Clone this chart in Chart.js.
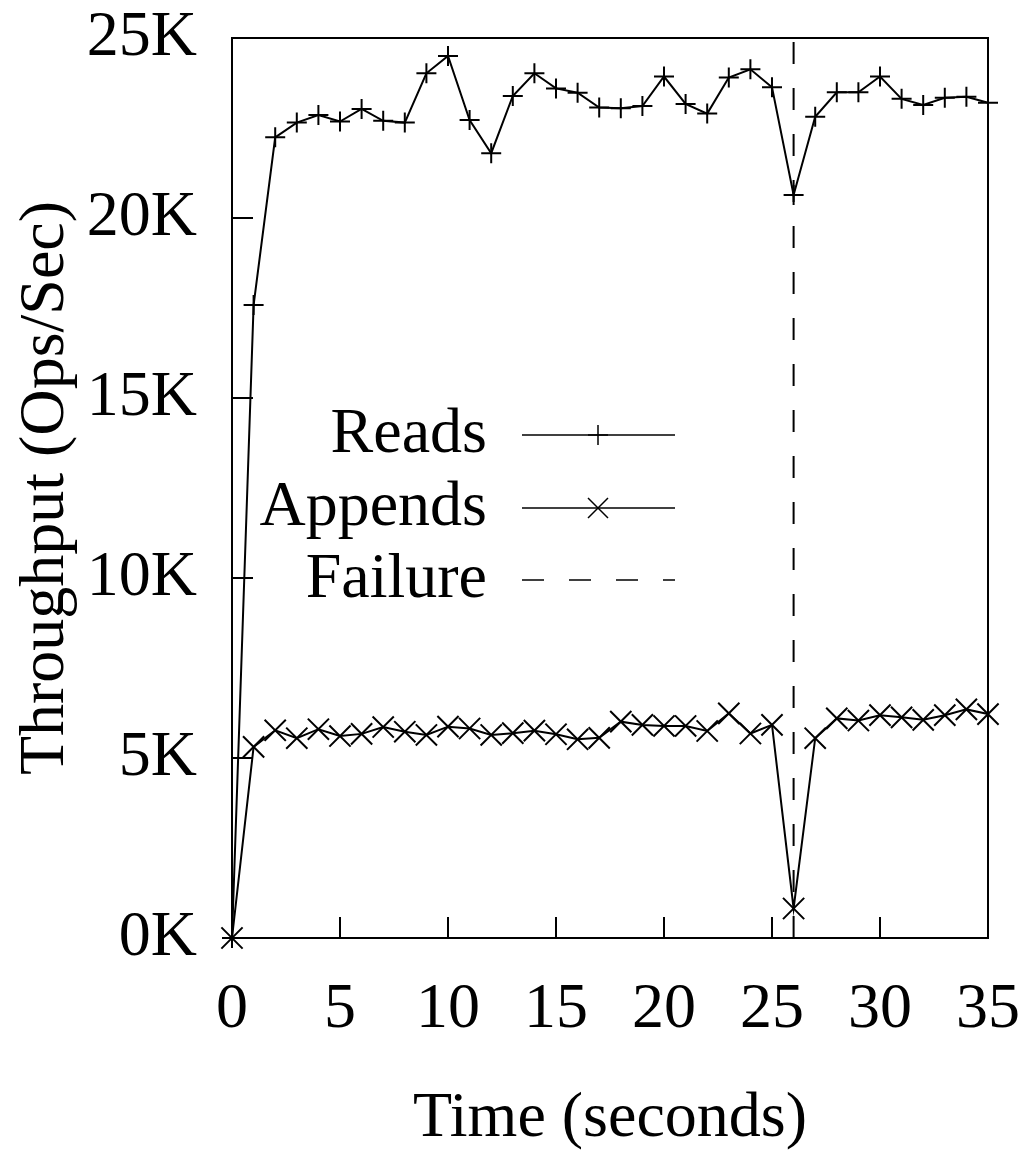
<!DOCTYPE html>
<html>
<head>
<meta charset="utf-8">
<script src="https://cdn.jsdelivr.net/npm/chart.js@4"></script>
<style>
  html, body { margin: 0; padding: 0; background: #fff; }
  #wrap { width: 1036px; height: 1151px; }
</style>
</head>
<body>
<div id="wrap"><canvas id="throughputChart" width="1036" height="1151"></canvas></div>
<script>
// time in seconds, throughput in thousands of ops/sec
const seconds = [0, 1, 2, 3, 4, 5, 6, 7, 8, 9, 10, 11, 12, 13, 14, 15, 16, 17,
    18, 19, 20, 21, 22, 23, 24, 25, 26, 27, 28, 29, 30, 31, 32, 33, 34, 35];
const reads = [0, 17.58, 22.24, 22.65, 22.86, 22.68, 23.03, 22.70, 22.65, 24.02, 24.5,
    22.72, 21.8, 23.39, 24.02, 23.6, 23.48, 23.07, 23.05, 23.11, 23.93, 23.17, 22.9,
    23.9, 24.13, 23.63, 20.64, 22.81, 23.49, 23.49, 23.93, 23.31, 23.14, 23.34, 23.37, 23.2];
const appends = [0, 5.31, 5.77, 5.55, 5.8, 5.61, 5.67, 5.86, 5.73, 5.64, 5.87,
    5.82, 5.64, 5.69, 5.76, 5.66, 5.52, 5.56, 6.01, 5.92, 5.89, 5.89, 5.75,
    6.24, 5.68, 5.92, 0.82, 5.55, 6.1, 6.04, 6.19, 6.13, 6.06, 6.19, 6.35, 6.22];
const failureTime = 26;
const xTicks = [0, 5, 10, 15, 20, 25, 30, 35];
const yTicks = [0, 5, 10, 15, 20, 25];

const FONT = "'Liberation Serif', 'Times New Roman', serif";

function toPoints(xs, ys) {
    return xs.map((x, i) => ({ x: x, y: ys[i] }));
}

// box round the plot plus inward tick marks
const framePlugin = {
    id: "frame",
    afterDatasetsDraw(chart) {
        const ctx = chart.ctx;
        const a = chart.chartArea;
        const xs = chart.scales.x;
        const ys = chart.scales.y;
        ctx.save();
        ctx.strokeStyle = "#000";
        ctx.lineWidth = 2;
        ctx.strokeRect(a.left, a.top, a.right - a.left, a.bottom - a.top);
        ctx.beginPath();
        xTicks.forEach(t => {
            const px = xs.getPixelForValue(t);
            ctx.moveTo(px, a.bottom);
            ctx.lineTo(px, a.bottom - 21);
        });
        yTicks.forEach(t => {
            const py = ys.getPixelForValue(t);
            ctx.moveTo(a.left, py);
            ctx.lineTo(a.left + 21, py);
        });
        ctx.stroke();
        ctx.restore();
    }
};

// gnuplot style key: text right aligned, sample on the right
const keyPlugin = {
    id: "key",
    afterDraw(chart) {
        const ctx = chart.ctx;
        const entries = [
            { label: "Reads", y: 435, marker: "plus" },
            { label: "Appends", y: 508, marker: "cross" },
            { label: "Failure", y: 580, dash: [22, 25] }
        ];
        ctx.save();
        ctx.fillStyle = "#000";
        ctx.strokeStyle = "#000";
        ctx.font = "64px " + FONT;
        ctx.textAlign = "right";
        ctx.textBaseline = "middle";
        entries.forEach(e => {
            ctx.fillText(e.label, 487, e.y);
            ctx.lineWidth = 1.5;
            ctx.setLineDash(e.dash || []);
            ctx.beginPath();
            ctx.moveTo(522, e.y);
            ctx.lineTo(675, e.y);
            ctx.stroke();
            ctx.setLineDash([]);
            ctx.beginPath();
            if (e.marker === "plus") {
                ctx.moveTo(598, e.y - 10); ctx.lineTo(598, e.y + 10);
                ctx.moveTo(588, e.y); ctx.lineTo(608, e.y);
            } else if (e.marker === "cross") {
                ctx.moveTo(588, e.y - 10); ctx.lineTo(608, e.y + 10);
                ctx.moveTo(588, e.y + 10); ctx.lineTo(608, e.y - 10);
            }
            ctx.stroke();
        });
        ctx.restore();
    }
};

const ctx = document.getElementById("throughputChart").getContext("2d");
new Chart(ctx, {
    type: "line",
    data: {
        datasets: [
            {
                label: "Reads",
                data: toPoints(seconds, reads),
                borderColor: "#000",
                borderWidth: 2,
                pointStyle: "cross",
                pointRadius: 10,
                pointBorderWidth: 2,
                pointBorderColor: "#000",
                pointBackgroundColor: "#000",
                fill: false,
                clip: false,
                tension: 0
            },
            {
                label: "Appends",
                data: toPoints(seconds, appends),
                borderColor: "#000",
                borderWidth: 2,
                pointStyle: "crossRot",
                pointRadius: 15,
                pointBorderWidth: 2,
                pointBorderColor: "#000",
                pointBackgroundColor: "#000",
                fill: false,
                clip: false,
                tension: 0
            },
            {
                label: "Failure",
                data: [{ x: failureTime, y: 0 }, { x: failureTime, y: 25 }],
                borderColor: "#000",
                borderWidth: 2,
                borderDash: [22, 24],
                pointRadius: 0,
                fill: false
            }
        ]
    },
    options: {
        responsive: false,
        animation: false,
        devicePixelRatio: 1,
        layout: {
            padding: { top: 38, right: 48, left: 0, bottom: 0 }
        },
        plugins: {
            legend: { display: false },
            tooltip: { enabled: false }
        },
        scales: {
            x: {
                type: "linear",
                min: 0,
                max: 35,
                grid: { display: false },
                border: { display: false },
                afterBuildTicks: s => { s.ticks = xTicks.map(v => ({ value: v })); },
                afterFit: s => { s.height = 213; s.paddingLeft = 0; s.paddingRight = 0; },
                ticks: {
                    color: "#000",
                    font: { family: FONT, size: 64 },
                    padding: 26,
                    autoSkip: false,
                    maxRotation: 0
                },
                title: {
                    display: true,
                    text: "Time (seconds)",
                    color: "#000",
                    font: { family: FONT, size: 64, lineHeight: 1 },
                    padding: 0
                }
            },
            y: {
                type: "linear",
                min: 0,
                max: 25,
                grid: { display: false },
                border: { display: false },
                afterBuildTicks: s => { s.ticks = yTicks.map(v => ({ value: v })); },
                afterFit: s => { s.width = 232; s.paddingTop = 0; s.paddingBottom = 0; },
                ticks: {
                    color: "#000",
                    font: { family: FONT, size: 64 },
                    padding: 27,
                    callback: v => v + "K"
                },
                title: {
                    display: true,
                    text: "Throughput (Ops/Sec)",
                    color: "#000",
                    font: { family: FONT, size: 64, lineHeight: 1 },
                    padding: { top: 14, bottom: 0 }
                }
            }
        }
    },
    plugins: [framePlugin, keyPlugin]
});
</script>
</body>
</html>
